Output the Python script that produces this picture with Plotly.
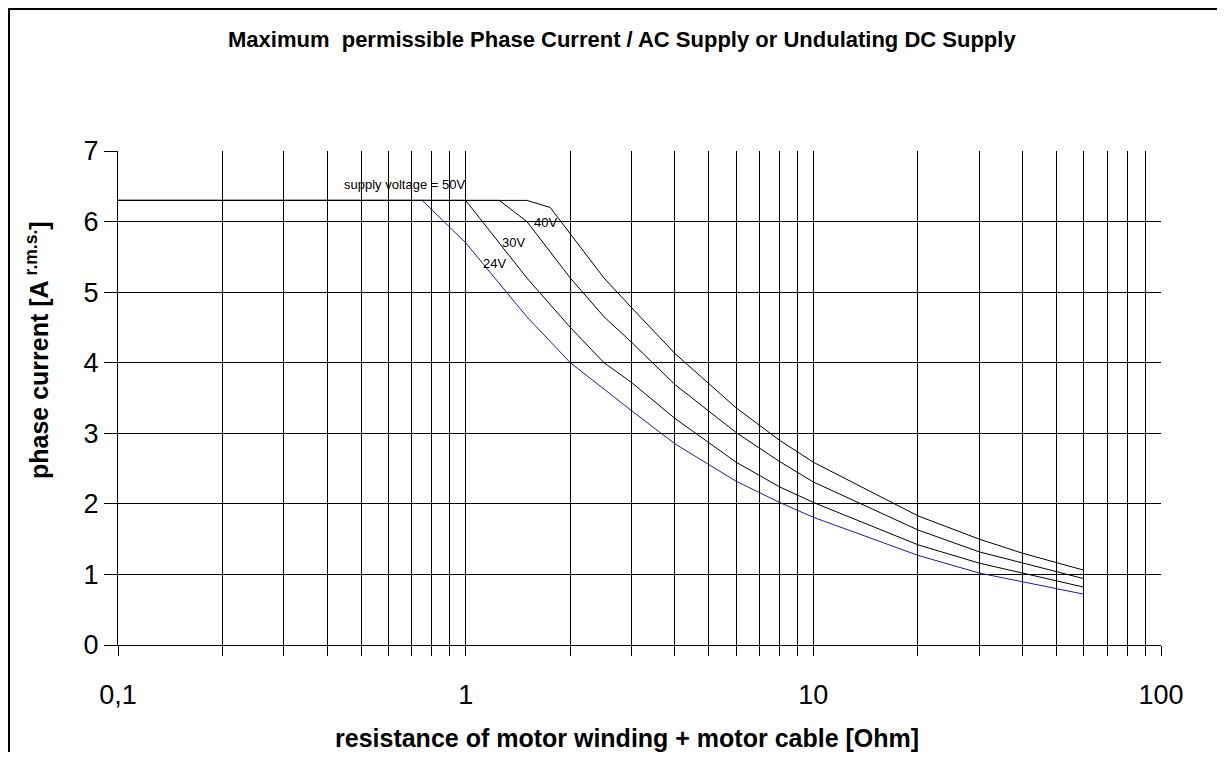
import math
import plotly.graph_objects as go

# ---- data ----
r_24 = [0.1, 0.75, 1, 1.5, 2, 2.5, 3, 4, 6, 8, 10, 20, 30, 60]
i_24 = [6.3, 6.3, 5.7, 4.65, 4.0, 3.62, 3.32, 2.85, 2.32, 2.02, 1.81, 1.27, 1.02, 0.72]

r_30 = [0.1, 1, 1.5, 2, 2.5, 3, 4, 6, 8, 10, 20, 30, 60]
i_30 = [6.3, 6.3, 5.2, 4.5, 4.0, 3.72, 3.21, 2.59, 2.24, 2.02, 1.42, 1.16, 0.82]

r_40 = [0.1, 1.25, 1.5, 2, 2.5, 3, 4, 6, 8, 10, 20, 30, 60]
i_40 = [6.3, 6.3, 6.0, 5.2, 4.65, 4.29, 3.69, 3.01, 2.60, 2.31, 1.63, 1.32, 0.94]

r_50 = [0.1, 1.5, 1.75, 2.5, 3, 4, 6, 8, 10, 20, 30, 40, 60]
i_50 = [6.3, 6.3, 6.2, 5.2, 4.78, 4.13, 3.36, 2.90, 2.59, 1.83, 1.50, 1.30, 1.06]

x_major_ticks = [0.1, 1, 10, 100]
x_major_labels = ["0,1", "1", "10", "100"]
x_minor_ticks = [0.2, 0.3, 0.4, 0.5, 0.6, 0.7, 0.8, 0.9,
                 2, 3, 4, 5, 6, 7, 8, 9,
                 20, 30, 40, 50, 60, 70, 80, 90]
y_ticks = [0, 1, 2, 3, 4, 5, 6, 7]
y_grid = [1, 2, 3, 4, 5, 6]

title_text = "Maximum  permissible Phase Current / AC Supply or Undulating DC Supply"
x_title = "resistance of motor winding + motor cable [Ohm]"
y_title = "phase current [A<sup> r.m.s.</sup>]"

FONT = "Liberation Sans, Arial, sans-serif"

fig = go.Figure()
fig.add_trace(go.Scatter(x=r_24, y=i_24, mode="lines", name="24V",
                         line=dict(color="#1c1ca0", width=1)))
fig.add_trace(go.Scatter(x=r_30, y=i_30, mode="lines", name="30V",
                         line=dict(color="#000000", width=1)))
fig.add_trace(go.Scatter(x=r_40, y=i_40, mode="lines", name="40V",
                         line=dict(color="#000000", width=1)))
fig.add_trace(go.Scatter(x=r_50, y=i_50, mode="lines", name="50V",
                         line=dict(color="#000000", width=1)))

W, H = 1209, 744
L, R, T, B = 110, 56, 143, 107

fig.update_layout(
    width=W, height=H,
    margin=dict(l=L, r=R, t=T, b=B),
    paper_bgcolor="white", plot_bgcolor="white",
    showlegend=False,
    font=dict(family=FONT, color="black"),
    xaxis=dict(
        type="log", range=[-1, 2],
        tickvals=x_major_ticks, ticktext=x_major_labels,
        tickfont=dict(size=27, family=FONT, color="black"),
        ticks="outside", ticklen=10, tickcolor="black", tickwidth=1,
        ticklabelstandoff=16,
        showgrid=True, gridcolor="black", gridwidth=1,
        showline=True, linecolor="black", linewidth=1,
        zeroline=False,
        minor=dict(tickvals=x_minor_ticks, ticks="outside", ticklen=10,
                   tickcolor="black", showgrid=True, gridcolor="black",
                   gridwidth=1),
    ),
    yaxis=dict(
        range=[0, 7],
        tickvals=y_ticks,
        tickfont=dict(size=27, family=FONT, color="black"),
        ticks="outside", ticklen=13, tickcolor="black", tickwidth=1,
        ticklabelstandoff=0,
        showgrid=False,
        showline=True, linecolor="black", linewidth=1,
        zeroline=False,
        minor=dict(tickvals=y_grid, ticks="", showgrid=True,
                   gridcolor="black", gridwidth=1),
    ),
)

pw = W - L - R
ph = H - T - B

def px(xf):
    return (xf - L) / pw

def py(yf):
    return (H - B - yf) / ph

# outer chart frame
fig.add_shape(type="rect", xref="paper", yref="paper",
              x0=px(1), x1=1.3, y0=-0.5, y1=py(1),
              line=dict(color="black", width=2), layer="below")

ann = []
ann.append(dict(text="<b>" + title_text + "</b>", xref="paper", yref="paper",
                x=px(614), y=py(32), xanchor="center", yanchor="middle",
                showarrow=False, font=dict(size=22, family=FONT, color="black")))
ann.append(dict(text="<b>" + x_title + "</b>", xref="paper", yref="paper",
                x=px(619), y=py(730), xanchor="center", yanchor="middle",
                showarrow=False, font=dict(size=25, family=FONT, color="black")))
ann.append(dict(text="<b>" + y_title + "</b>", xref="paper", yref="paper",
                x=px(29), y=py(342), xanchor="center", yanchor="middle",
                textangle=-90,
                showarrow=False, font=dict(size=25, family=FONT, color="black")))

curve_labels = [
    ("supply voltage = 50V", 0.669, 6.52),
    ("40V", 1.70, 5.98),
    ("30V", 1.37, 5.71),
    ("24V", 1.21, 5.41),
]
for txt, xv, yv in curve_labels:
    ann.append(dict(text=txt, xref="x", yref="y", x=math.log10(xv), y=yv,
                    xanchor="center", yanchor="middle", showarrow=False,
                    font=dict(size=13, family=FONT, color="black")))

fig.update_layout(annotations=ann)

fig.write_html("out.html")
